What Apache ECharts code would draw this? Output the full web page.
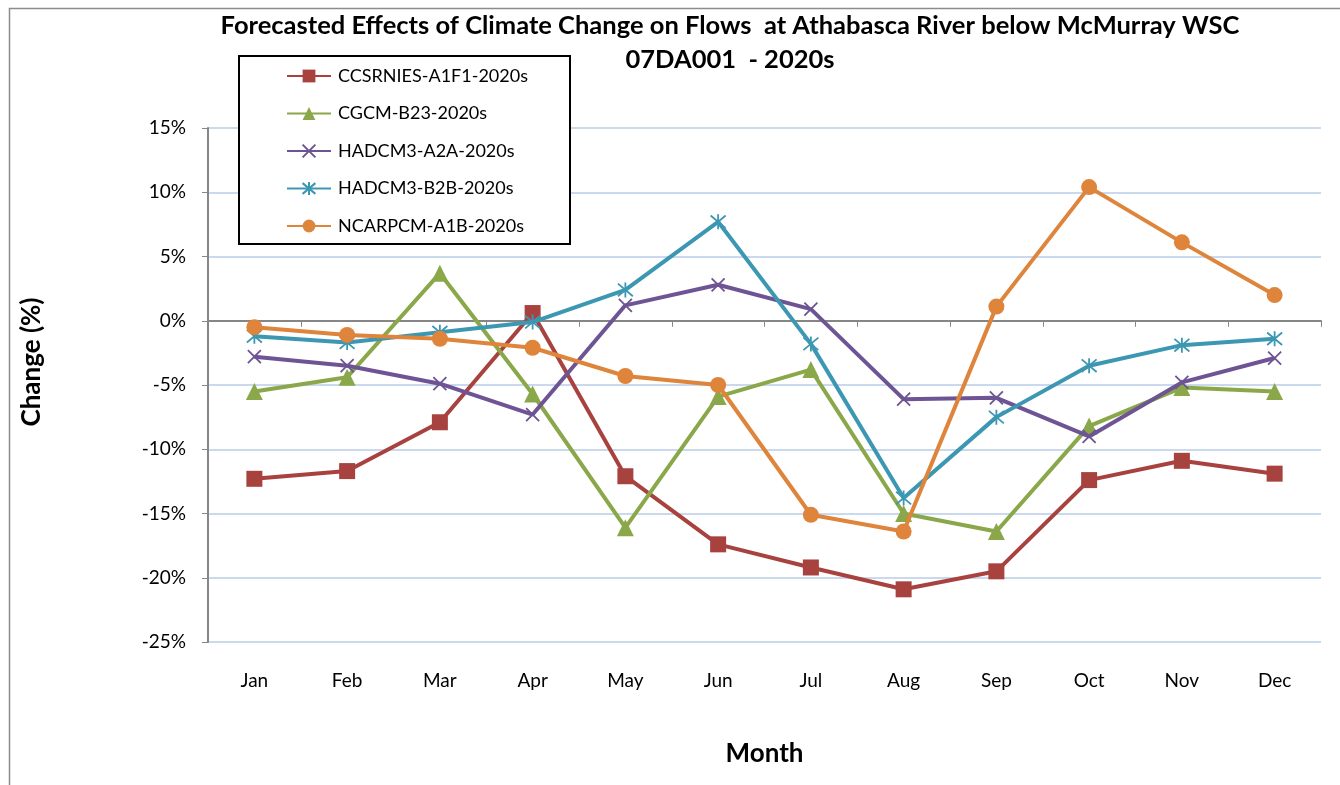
<!DOCTYPE html>
<html>
<head>
<meta charset="utf-8">
<script src="https://cdn.jsdelivr.net/npm/echarts@6/dist/echarts.min.js"></script>
<style>
  html, body { margin: 0; padding: 0; background: #fff; }
  #chart { width: 1340px; height: 785px; }
</style>
</head>
<body>
<div id="chart"></div>
<script>
var months = ['Jan', 'Feb', 'Mar', 'Apr', 'May', 'Jun', 'Jul', 'Aug', 'Sep', 'Oct', 'Nov', 'Dec'];
var yTicks = [-25, -20, -15, -10, -5, 0, 5, 10, 15];

// change in flow (%) by month
var ccsrnies = [-12.3, -11.7, -7.9, 0.6, -12.1, -17.4, -19.2, -20.9, -19.5, -12.4, -10.9, -11.9];
var cgcm     = [-5.5, -4.4, 3.7, -5.7, -16.1, -5.9, -3.8, -15.0, -16.4, -8.2, -5.2, -5.5];
var hadA2A   = [-2.8, -3.5, -4.9, -7.3, 1.2, 2.8, 0.9, -6.1, -6.0, -9.0, -4.8, -2.9];
var hadB2B   = [-1.2, -1.7, -0.9, -0.1, 2.4, 7.7, -1.8, -13.8, -7.5, -3.5, -1.9, -1.4];
var ncarpcm  = [-0.5, -1.1, -1.4, -2.1, -4.3, -5.0, -15.1, -16.4, 1.1, 10.4, 6.1, 2.0];

var names = ['CCSRNIES-A1F1-2020s', 'CGCM-B23-2020s', 'HADCM3-A2A-2020s', 'HADCM3-B2B-2020s', 'NCARPCM-A1B-2020s'];
var colors = ['#A8423F', '#8AA84A', '#6E5494', '#3C97B2', '#DE843B'];

var xMark = 'path://M0,0 L10,10 M10,0 L0,10';
var starMark = 'path://M5,0 L5,10 M0.8,0.8 L9.2,9.2 M9.2,0.8 L0.8,9.2';

function makeSeries(i, data, symbol, size, stroke) {
    return {
        name: names[i],
        type: 'line',
        data: data,
        symbol: symbol,
        symbolSize: size,
        z: 2 + i,
        lineStyle: { color: colors[i], width: 4 },
        itemStyle: { color: colors[i], borderColor: colors[i], borderWidth: stroke ? 1.8 : 0 },
        emphasis: { disabled: true },
        animation: false
    };
}

var font = 'Lato, "Open Sans", sans-serif';
var chart = echarts.init(document.getElementById('chart'));

var option = {
    backgroundColor: '#fff',
    color: colors,
    textStyle: { fontFamily: font },
    graphic: [
        {
            type: 'rect', left: 7, top: 6, z: 0,
            shape: { width: 1345, height: 800 },
            style: { fill: 'none', stroke: '#8c8c8c', lineWidth: 1.5 }
        },
        {
            type: 'text', x: 730, y: 9, z: 10,
            style: {
                text: 'Forecasted Effects of Climate Change on Flows  at Athabasca River below McMurray WSC\n07DA001  - 2020s',
                textAlign: 'center', font: 'bold 25.5px ' + font, lineHeight: 34, fill: '#000'
            }
        },
        {
            type: 'text', x: 32, y: 362, z: 10, rotation: Math.PI / 2,
            style: {
                text: 'Change (%)', textAlign: 'center', textVerticalAlign: 'middle',
                font: 'bold 26px ' + font, fill: '#000'
            }
        },
        {
            type: 'rect', left: 238, top: 55, z: 10,
            shape: { width: 331, height: 188 },
            style: { fill: '#fff', stroke: '#000', lineWidth: 2 }
        }
    ],
    legend: {
        orient: 'vertical',
        left: 281,
        top: 62,
        itemWidth: 44,
        itemHeight: 16,
        itemGap: 19.5,
        z: 20,
        textStyle: { fontSize: 18, color: '#000', fontFamily: font, padding: [0, 0, 0, 2] },
        data: names
    },
    grid: { left: 208, right: 19, top: 128, bottom: 143, containLabel: false },
    xAxis: {
        type: 'category',
        data: months,
        boundaryGap: true,
        name: 'Month',
        nameLocation: 'middle',
        nameGap: 99,
        nameTextStyle: { fontSize: 26, fontWeight: 'bold', color: '#000', fontFamily: font },
        axisLine: { lineStyle: { color: '#868686', width: 2 } },
        axisTick: { show: true, alignWithLabel: false, length: 6, lineStyle: { color: '#868686' } },
        axisLabel: { fontSize: 19, color: '#000', margin: 29, fontFamily: font },
        splitLine: { show: false }
    },
    yAxis: {
        type: 'value',
        min: yTicks[0],
        max: yTicks[yTicks.length - 1],
        interval: 5,
        axisLine: { show: true, lineStyle: { color: '#868686', width: 2 } },
        axisTick: { show: true, inside: false, length: 6, lineStyle: { color: '#868686' } },
        axisLabel: { fontSize: 19, color: '#000', margin: 22, fontFamily: font, formatter: '{value}%' },
        splitLine: { show: true, lineStyle: { color: '#B8CCE8', width: 1.5 } }
    },
    series: [
        makeSeries(0, ccsrnies, 'rect', 16, false),
        makeSeries(1, cgcm, 'triangle', 17, false),
        makeSeries(2, hadA2A, xMark, 13, true),
        makeSeries(3, hadB2B, starMark, 15, true),
        makeSeries(4, ncarpcm, 'circle', 16, false)
    ]
};
chart.setOption(option);
window.onresize = function () {
    chart.resize();
};
</script>
</body>
</html>
